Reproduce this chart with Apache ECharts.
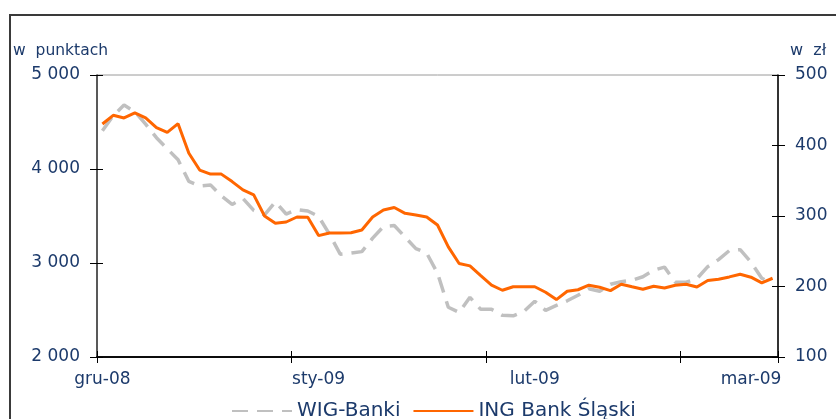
<!DOCTYPE html>
<html>
<head>
<meta charset="utf-8">
<script src="https://cdn.jsdelivr.net/npm/echarts@6/dist/echarts.min.js"></script>
<style>
  html, body { margin: 0; padding: 0; background: #fff; overflow: hidden; }
  #frame { position: absolute; left: 9px; top: 14px; width: 900px; height: 500px;
           border-left: 2px solid #3a3a3a; border-top: 2px solid #3a3a3a; }
  #chart { position: absolute; left: 0; top: 0; width: 836px; height: 419px; }
</style>
</head>
<body>
<div id="frame"></div>
<div id="chart"></div>
<script>
// trading days, 1 Dec 2008 .. early Mar 2009 (63 sessions)
var tickLabels = ['gru-08', 'sty-09', 'lut-09', 'mar-09'];
var labelEvery = 20;
var tickEvery = 18;

// WIG-Banki, w punktach (lewa oś)
var wigBanki = [
    4407, 4568, 4680, 4610, 4477, 4333, 4215, 4098, 3868, 3820,
    3831, 3714, 3623, 3687, 3559, 3511, 3650, 3521, 3569, 3553,
    3495, 3308, 3094, 3105, 3121, 3265, 3388, 3399, 3276, 3153,
    3105, 2892, 2529, 2475, 2635, 2507, 2507, 2443, 2438, 2486,
    2593, 2496, 2550, 2598, 2657, 2726, 2699, 2774, 2801, 2817,
    2854, 2923, 2956, 2795, 2795, 2833, 2961, 3036, 3132, 3142,
    3009, 2838, 2785
];
// ING Bank Śląski, w zł (prawa oś)
var ingBsk = [
    430.5, 442.8, 439.1, 446.2, 439.1, 425.3, 418.6, 431.0, 389.0, 365.2,
    359.5, 359.4, 348.8, 337.0, 329.9, 300.0, 289.6, 291.5, 298.6, 298.2,
    272.2, 275.8, 275.8, 276.2, 280.1, 298.6, 308.5, 312.1, 303.8, 301.4,
    298.6, 287.2, 256.3, 232.7, 229.3, 215.3, 201.8, 194.7, 199.6, 199.6,
    199.6, 191.8, 181.4, 193.2, 195.4, 201.8, 198.9, 194.2, 203.2, 199.6,
    196.1, 200.4, 197.9, 201.8, 203.2, 199.4, 208.5, 210.3, 213.6, 217.4,
    213.2, 205.1, 211.7
];

var days = wigBanki.map(function (v, i) { return i; });

var txtColor = '#1c3a6b';
var fontName = 'DejaVu Sans';

var baseX = {
    type: 'category',
    data: days,
    boundaryGap: true,
    axisLine: { lineStyle: { color: '#000', width: 1.5 } }
};

var option = {
    animation: false,
    grid: {
        left: 97, right: 58, top: 75, bottom: 62,
        show: true, borderColor: '#9a9a9a', borderWidth: 1
    },
    legend: {
        left: 226, top: 396,
        itemWidth: 60, itemHeight: 14, itemGap: 12,
        itemStyle: { opacity: 0 },
        textStyle: { color: txtColor, fontFamily: fontName, fontSize: 20 },
        data: ['WIG-Banki', 'ING Bank Śląski']
    },
    xAxis: [
        Object.assign({}, baseX, {
            axisTick: { show: true, length: 6, lineStyle: { color: '#000' },
                interval: function (i) { return i % tickEvery === 0; } },
            axisLabel: {
                color: txtColor, fontFamily: fontName, fontSize: 17, margin: 14,
                interval: function (i) { return i % labelEvery === 0; },
                formatter: function (v, i) { return tickLabels[i / labelEvery] || ''; }
            },
            splitLine: { show: false }
        }),
        Object.assign({}, baseX, {
            position: 'bottom',
            axisTick: { show: true, inside: true, length: 6, lineStyle: { color: '#000' },
                interval: function (i) { return i % tickEvery === 0; } },
            axisLabel: { show: false },
            splitLine: { show: false }
        })
    ],
    yAxis: [
        {
            type: 'value', position: 'left', min: 2000, max: 5000, interval: 1000,
            name: 'w  punktach', nameLocation: 'end', nameGap: 16,
            nameTextStyle: { color: txtColor, fontFamily: fontName, fontSize: 15.5,
                align: 'right', padding: [0, -11, 0, 0] },
            axisLine: { show: true, lineStyle: { color: '#333', width: 1.5 } },
            axisTick: { show: true, length: 7, lineStyle: { color: '#000' } },
            axisLabel: {
                color: txtColor, fontFamily: fontName, fontSize: 17, margin: 17,
                formatter: function (v) { return String(v).replace(/\B(?=(\d{3})+$)/g, ' '); }
            },
            splitLine: { show: false }
        },
        {
            type: 'value', position: 'right', min: 100, max: 500, interval: 100,
            name: 'w  zł', nameLocation: 'end', nameGap: 16,
            nameTextStyle: { color: txtColor, fontFamily: fontName, fontSize: 16,
                align: 'left', padding: [0, 0, 0, 12] },
            axisLine: { show: true, lineStyle: { color: '#000', width: 1.5 } },
            axisTick: { show: true, length: 7, lineStyle: { color: '#000' } },
            axisLabel: { color: txtColor, fontFamily: fontName, fontSize: 17, margin: 17 },
            splitLine: { show: false }
        },
        {
            type: 'value', position: 'left', min: 2000, max: 5000, interval: 1000,
            axisLine: { show: false },
            axisTick: { show: true, inside: true, length: 6, lineStyle: { color: '#000' } },
            axisLabel: { show: false }, splitLine: { show: false }
        },
        {
            type: 'value', position: 'right', min: 100, max: 500, interval: 100,
            axisLine: { show: false },
            axisTick: { show: true, inside: true, length: 6, lineStyle: { color: '#000' } },
            axisLabel: { show: false }, splitLine: { show: false }
        }
    ],
    series: [
        {
            name: 'WIG-Banki',
            type: 'line',
            yAxisIndex: 0,
            data: wigBanki,
            symbol: 'none',
            color: '#c0c0c0',
            lineStyle: { color: '#c0c0c0', width: 3.5, type: [16, 9] }
        },
        {
            name: 'ING Bank Śląski',
            type: 'line',
            yAxisIndex: 1,
            data: ingBsk,
            symbol: 'none',
            color: '#ff6600',
            lineStyle: { color: '#ff6600', width: 3 }
        }
    ]
};

var myChart = echarts.init(document.getElementById('chart'));
myChart.setOption(option);
</script>
</body>
</html>
